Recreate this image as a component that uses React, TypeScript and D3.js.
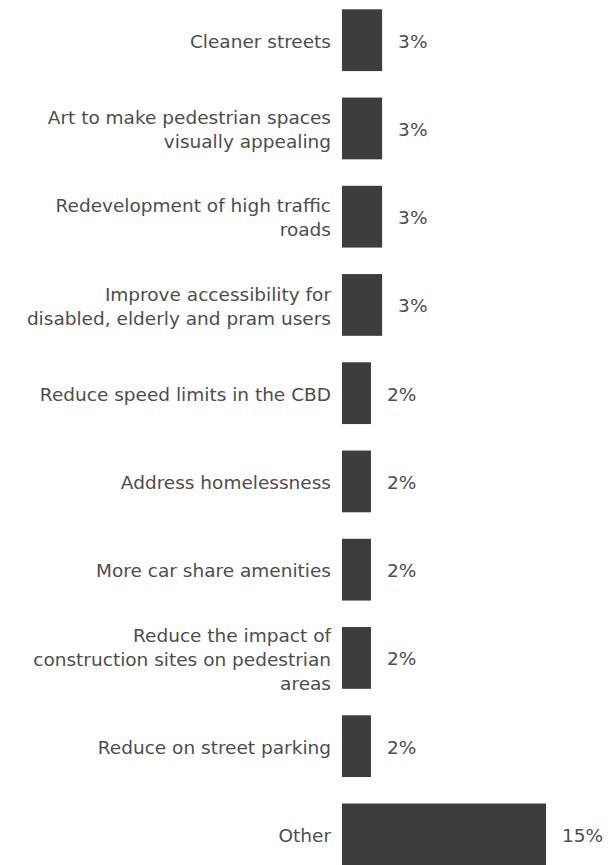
import React from "react";
import * as d3 from "d3";

const categories: string[] = [
  "Cleaner streets",
  "Art to make pedestrian spaces\nvisually appealing",
  "Redevelopment of high traffic\nroads",
  "Improve accessibility for\ndisabled, elderly and pram users",
  "Reduce speed limits in the CBD",
  "Address homelessness",
  "More car share amenities",
  "Reduce the impact of\nconstruction sites on pedestrian\nareas",
  "Reduce on street parking",
  "Other",
];
const values: number[] = [2.95, 2.95, 2.95, 2.95, 2.13, 2.13, 2.13, 2.13, 2.13, 15];

const W = 615;
const H = 865;
const BAR = "#3d3d3d";
const TEXT = "#4d4d4d";
const FONT = "'DejaVu Sans', sans-serif";

export default function App() {
  const x = d3.scaleLinear().domain([0, 15]).range([342, 546]);
  const y = d3
    .scaleBand<string>()
    .domain(categories)
    .range([9.3, 865.3])
    .paddingInner(0.3)
    .paddingOuter(0);
  const lh = 24;
  return (
    <svg
      width={W}
      height={H}
      style={{ position: "absolute", left: 0, top: 0, background: "#fff" }}
      fontFamily={FONT}
    >
      {categories.map((c, i) => {
        const y0 = y(c)!;
        const cy = y0 + y.bandwidth() / 2;
        const lines = c.split("\n");
        const v = values[i];
        return (
          <g key={c}>
            <rect x={x(0)} y={y0} width={x(v) - x(0)} height={y.bandwidth()} fill={BAR} />
            <text x={331} textAnchor="end" fontSize={18.5} fill={TEXT}>
              {lines.map((l, j) => (
                <tspan
                  key={j}
                  x={331}
                  y={cy + (j - (lines.length - 1) / 2) * lh}
                  dy="0.42em"
                >
                  {l}
                </tspan>
              ))}
            </text>
            <text x={x(v) + 16} y={cy} dy="0.4em" fontSize={18.5} fill={TEXT}>
              {Math.round(v) + "%"}
            </text>
          </g>
        );
      })}
    </svg>
  );
}
